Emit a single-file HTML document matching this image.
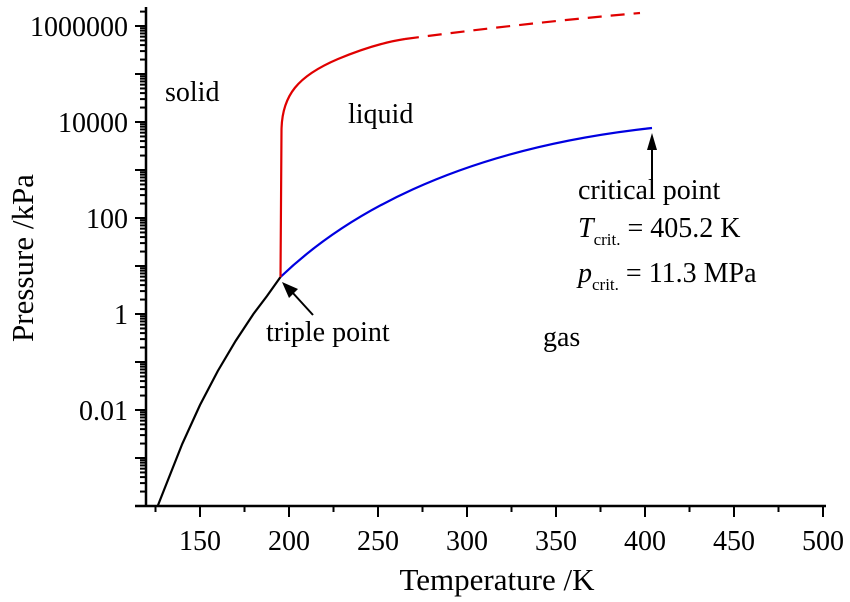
<!DOCTYPE html>
<html><head><meta charset="utf-8"><style>
body{margin:0;background:#fff}
svg{display:block;font-family:"Liberation Serif",serif}
</style></head><body>
<svg id="s" width="850" height="602" viewBox="0 0 850 602" xmlns="http://www.w3.org/2000/svg">
<g id="ax" stroke="#000" stroke-width="2.5" fill="none">
<line x1="146" y1="7" x2="146" y2="507"/>
<line x1="135" y1="506" x2="826" y2="506"/>
</g>
<g id="tk" stroke="#000" stroke-width="2"></g>
<g id="lb" font-size="28" fill="#000"></g>
<path d="M157.7,506 L164.4,489 L182.2,444 L200,405 L217.8,371 L235.6,341 L253.4,314 L267,296 L280.5,277" stroke="#000" stroke-width="2.2" fill="none"/>
<path d="M280.5,277 C340,220 450,150 652,128" stroke="#0000e0" stroke-width="2.2" fill="none"/>
<path d="M280.5,277 L281.5,130 C282,95 298,76 338,59 C362,49 385,42 405,39" stroke="#e00000" stroke-width="2.2" fill="none"/>
<path d="M405,39 C480,29 560,20 640,13" stroke="#e00000" stroke-width="2.2" fill="none" stroke-dasharray="14,9"/>
<line x1="313" y1="315" x2="292" y2="292" stroke="#000" stroke-width="2"/>
<polygon points="282,282 298,289 289,298" fill="#000"/>
<line x1="652" y1="180" x2="652" y2="145" stroke="#000" stroke-width="2"/>
<polygon points="652,133 647,150 657,150" fill="#000"/>
<g font-size="28" fill="#000">
<text x="165" y="101">solid</text>
<text x="348" y="123">liquid</text>
<text x="266" y="341">triple point</text>
<text x="543" y="346">gas</text>
<text x="578" y="199">critical point</text>
<text x="578" y="237"><tspan font-style="italic">T</tspan><tspan font-size="17" dy="8">crit.</tspan><tspan dy="-8"> = 405.2 K</tspan></text>
<text x="578" y="282"><tspan font-style="italic">p</tspan><tspan font-size="17" dy="8">crit.</tspan><tspan dy="-8"> = 11.3 MPa</tspan></text>
<text x="497" y="590" text-anchor="middle" font-size="31">Temperature /K</text>
<text transform="translate(33,258) rotate(-90)" text-anchor="middle" font-size="31">Pressure /kPa</text>
</g>
</svg>
<script>
var NS="http://www.w3.org/2000/svg",tk=document.getElementById("tk"),lb=document.getElementById("lb");
function L(x1,y1,x2,y2){var l=document.createElementNS(NS,"line");l.setAttribute("x1",x1);l.setAttribute("y1",y1);l.setAttribute("x2",x2);l.setAttribute("y2",y2);tk.appendChild(l);}
function T(x,y,s,a){var t=document.createElementNS(NS,"text");t.setAttribute("x",x);t.setAttribute("y",y);t.setAttribute("text-anchor",a);t.textContent=s;lb.appendChild(t);}
function Y(lg){return 314-48*lg;}
var labs={6:"1000000",4:"10000",2:"100",0:"1","-2":"0.01"};
for(var d=-4;d<=6;d++){var y=Y(d);L(135,y,146,y);if(labs[d]!==undefined)T(128,y+10,labs[d],"end");
 if(d<6)for(var m=2;m<=9;m++){var ym=Y(d+Math.log10(m));L(140,ym,146,ym);}}
L(140,Y(6.3),146,Y(6.3));
for(var t=125;t<=500;t+=25){var x=200+(t-150)*1.78;if(t%50==0){L(x,506,x,517);T(x,550,""+t,"middle");}else L(x,506,x,512);}
</script>
</body></html>
